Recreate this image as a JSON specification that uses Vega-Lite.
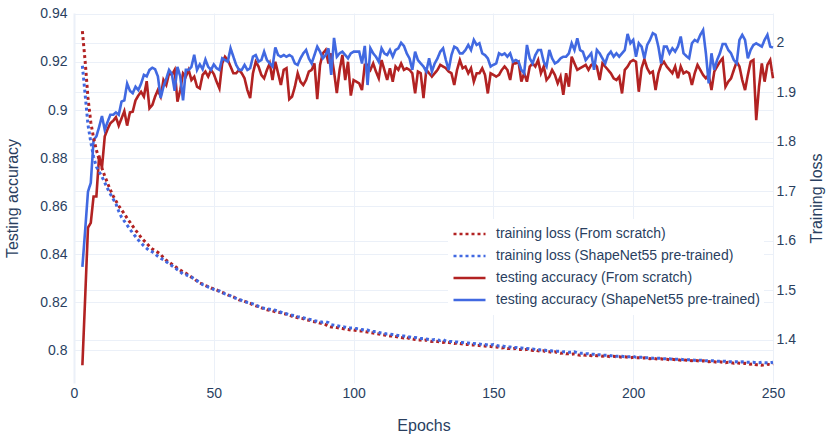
{
  "$schema": "https://vega.github.io/schema/vega-lite/v6.json",
  "width": 699,
  "height": 370,
  "autosize": {"type": "none"},
  "padding": {"left": 74, "top": 13, "right": 57, "bottom": 58},
  "background": "white",
  "config": {
    "font": "Liberation Sans",
    "view": {"stroke": null},
    "axis": {
      "labelFont": "Liberation Sans",
      "titleFont": "Liberation Sans",
      "labelFontSize": 14,
      "titleFontSize": 16,
      "titleFontWeight": "normal",
      "labelColor": "#2a3f5f",
      "titleColor": "#2a3f5f",
      "gridColor": "#EBF0F8",
      "gridWidth": 1,
      "domain": false,
      "ticks": false,
      "labelFlush": false
    },
    "legend": {
      "labelFont": "Liberation Sans",
      "labelFontSize": 14,
      "labelColor": "#2a3f5f",
      "labelLimit": 0
    }
  },
  "data": {
    "values": [
      {"epoch": 3, "a_s": 0.7937, "a_p": 0.8347, "l_s": 2.024, "l_p": 1.954},
      {"epoch": 4, "a_s": 0.822, "a_p": 0.850, "l_s": 1.962, "l_p": 1.895},
      {"epoch": 5, "a_s": 0.851, "a_p": 0.866, "l_s": 1.889, "l_p": 1.835},
      {"epoch": 6, "a_s": 0.853, "a_p": 0.8696, "l_s": 1.840, "l_p": 1.800},
      {"epoch": 7, "a_s": 0.864, "a_p": 0.8875, "l_s": 1.808, "l_p": 1.770},
      {"epoch": 8, "a_s": 0.864, "a_p": 0.889, "l_s": 1.784, "l_p": 1.750},
      {"epoch": 9, "a_s": 0.881, "a_p": 0.893, "l_s": 1.764, "l_p": 1.740},
      {"epoch": 10, "a_s": 0.876, "a_p": 0.8975, "l_s": 1.747, "l_p": 1.730},
      {"epoch": 11, "a_s": 0.889, "a_p": 0.8917, "l_s": 1.731, "l_p": 1.718},
      {"epoch": 12, "a_s": 0.892, "a_p": 0.895, "l_s": 1.717, "l_p": 1.706},
      {"epoch": 13, "a_s": 0.8945, "a_p": 0.898, "l_s": 1.703, "l_p": 1.695},
      {"epoch": 14, "a_s": 0.8955, "a_p": 0.898, "l_s": 1.691, "l_p": 1.685},
      {"epoch": 15, "a_s": 0.897, "a_p": 0.899, "l_s": 1.681, "l_p": 1.675},
      {"epoch": 16, "a_s": 0.8935, "a_p": 0.898, "l_s": 1.671, "l_p": 1.660},
      {"epoch": 17, "a_s": 0.8965, "a_p": 0.9035, "l_s": 1.663, "l_p": 1.648},
      {"epoch": 18, "a_s": 0.8995, "a_p": 0.904, "l_s": 1.655, "l_p": 1.640},
      {"epoch": 19, "a_s": 0.8935, "a_p": 0.911, "l_s": 1.646, "l_p": 1.632},
      {"epoch": 20, "a_s": 0.899, "a_p": 0.908, "l_s": 1.638, "l_p": 1.624},
      {"epoch": 21, "a_s": 0.8993, "a_p": 0.907, "l_s": 1.630, "l_p": 1.616},
      {"epoch": 22, "a_s": 0.904, "a_p": 0.9097, "l_s": 1.622, "l_p": 1.609},
      {"epoch": 23, "a_s": 0.906, "a_p": 0.9083, "l_s": 1.615, "l_p": 1.602},
      {"epoch": 24, "a_s": 0.9076, "a_p": 0.911, "l_s": 1.607, "l_p": 1.596},
      {"epoch": 25, "a_s": 0.9056, "a_p": 0.9146, "l_s": 1.601, "l_p": 1.590},
      {"epoch": 26, "a_s": 0.912, "a_p": 0.914, "l_s": 1.595, "l_p": 1.585},
      {"epoch": 27, "a_s": 0.9007, "a_p": 0.9167, "l_s": 1.589, "l_p": 1.580},
      {"epoch": 28, "a_s": 0.902, "a_p": 0.9176, "l_s": 1.584, "l_p": 1.578},
      {"epoch": 29, "a_s": 0.9056, "a_p": 0.917, "l_s": 1.580, "l_p": 1.574},
      {"epoch": 30, "a_s": 0.9083, "a_p": 0.914, "l_s": 1.577, "l_p": 1.569},
      {"epoch": 31, "a_s": 0.9056, "a_p": 0.905, "l_s": 1.573, "l_p": 1.565},
      {"epoch": 32, "a_s": 0.9125, "a_p": 0.9097, "l_s": 1.566, "l_p": 1.562},
      {"epoch": 33, "a_s": 0.9104, "a_p": 0.913, "l_s": 1.561, "l_p": 1.558},
      {"epoch": 34, "a_s": 0.9153, "a_p": 0.9167, "l_s": 1.557, "l_p": 1.554},
      {"epoch": 35, "a_s": 0.9146, "a_p": 0.915, "l_s": 1.553, "l_p": 1.550},
      {"epoch": 36, "a_s": 0.9167, "a_p": 0.908, "l_s": 1.549, "l_p": 1.546},
      {"epoch": 37, "a_s": 0.9035, "a_p": 0.918, "l_s": 1.545, "l_p": 1.542},
      {"epoch": 38, "a_s": 0.9083, "a_p": 0.914, "l_s": 1.541, "l_p": 1.538},
      {"epoch": 39, "a_s": 0.9153, "a_p": 0.904, "l_s": 1.538, "l_p": 1.533},
      {"epoch": 40, "a_s": 0.9139, "a_p": 0.9167, "l_s": 1.535, "l_p": 1.532},
      {"epoch": 41, "a_s": 0.9167, "a_p": 0.9167, "l_s": 1.531, "l_p": 1.529},
      {"epoch": 42, "a_s": 0.9125, "a_p": 0.918, "l_s": 1.527, "l_p": 1.527},
      {"epoch": 43, "a_s": 0.9139, "a_p": 0.923, "l_s": 1.524, "l_p": 1.523},
      {"epoch": 44, "a_s": 0.9097, "a_p": 0.9167, "l_s": 1.519, "l_p": 1.520},
      {"epoch": 45, "a_s": 0.909, "a_p": 0.919, "l_s": 1.515, "l_p": 1.516},
      {"epoch": 46, "a_s": 0.9146, "a_p": 0.917, "l_s": 1.513, "l_p": 1.512},
      {"epoch": 47, "a_s": 0.916, "a_p": 0.921, "l_s": 1.510, "l_p": 1.510},
      {"epoch": 48, "a_s": 0.9139, "a_p": 0.918, "l_s": 1.508, "l_p": 1.507},
      {"epoch": 49, "a_s": 0.9167, "a_p": 0.9167, "l_s": 1.505, "l_p": 1.505},
      {"epoch": 50, "a_s": 0.915, "a_p": 0.919, "l_s": 1.503, "l_p": 1.502},
      {"epoch": 51, "a_s": 0.9118, "a_p": 0.9174, "l_s": 1.501, "l_p": 1.500},
      {"epoch": 52, "a_s": 0.909, "a_p": 0.9167, "l_s": 1.498, "l_p": 1.499},
      {"epoch": 53, "a_s": 0.9194, "a_p": 0.9215, "l_s": 1.496, "l_p": 1.496},
      {"epoch": 54, "a_s": 0.9222, "a_p": 0.9208, "l_s": 1.494, "l_p": 1.493},
      {"epoch": 55, "a_s": 0.9208, "a_p": 0.9201, "l_s": 1.491, "l_p": 1.491},
      {"epoch": 56, "a_s": 0.9181, "a_p": 0.9257, "l_s": 1.489, "l_p": 1.489},
      {"epoch": 57, "a_s": 0.9153, "a_p": 0.9222, "l_s": 1.487, "l_p": 1.486},
      {"epoch": 58, "a_s": 0.9153, "a_p": 0.9188, "l_s": 1.484, "l_p": 1.484},
      {"epoch": 59, "a_s": 0.9167, "a_p": 0.9167, "l_s": 1.481, "l_p": 1.482},
      {"epoch": 60, "a_s": 0.9153, "a_p": 0.9167, "l_s": 1.480, "l_p": 1.480},
      {"epoch": 61, "a_s": 0.9132, "a_p": 0.9188, "l_s": 1.478, "l_p": 1.478},
      {"epoch": 62, "a_s": 0.9083, "a_p": 0.9167, "l_s": 1.476, "l_p": 1.476},
      {"epoch": 63, "a_s": 0.905, "a_p": 0.9174, "l_s": 1.474, "l_p": 1.475},
      {"epoch": 64, "a_s": 0.9153, "a_p": 0.9222, "l_s": 1.471, "l_p": 1.473},
      {"epoch": 65, "a_s": 0.9201, "a_p": 0.9229, "l_s": 1.469, "l_p": 1.471},
      {"epoch": 66, "a_s": 0.9181, "a_p": 0.9201, "l_s": 1.467, "l_p": 1.468},
      {"epoch": 67, "a_s": 0.9146, "a_p": 0.9208, "l_s": 1.465, "l_p": 1.466},
      {"epoch": 68, "a_s": 0.9132, "a_p": 0.9243, "l_s": 1.463, "l_p": 1.464},
      {"epoch": 69, "a_s": 0.9167, "a_p": 0.9208, "l_s": 1.461, "l_p": 1.463},
      {"epoch": 70, "a_s": 0.9194, "a_p": 0.9194, "l_s": 1.460, "l_p": 1.462},
      {"epoch": 71, "a_s": 0.9125, "a_p": 0.9181, "l_s": 1.459, "l_p": 1.461},
      {"epoch": 72, "a_s": 0.9201, "a_p": 0.9261, "l_s": 1.457, "l_p": 1.460},
      {"epoch": 73, "a_s": 0.9153, "a_p": 0.9229, "l_s": 1.456, "l_p": 1.458},
      {"epoch": 74, "a_s": 0.9104, "a_p": 0.9222, "l_s": 1.455, "l_p": 1.456},
      {"epoch": 75, "a_s": 0.9167, "a_p": 0.9229, "l_s": 1.453, "l_p": 1.454},
      {"epoch": 76, "a_s": 0.9174, "a_p": 0.9222, "l_s": 1.452, "l_p": 1.453},
      {"epoch": 77, "a_s": 0.9045, "a_p": 0.9229, "l_s": 1.450, "l_p": 1.451},
      {"epoch": 78, "a_s": 0.9056, "a_p": 0.9222, "l_s": 1.448, "l_p": 1.450},
      {"epoch": 79, "a_s": 0.9097, "a_p": 0.9194, "l_s": 1.447, "l_p": 1.449},
      {"epoch": 80, "a_s": 0.9153, "a_p": 0.9188, "l_s": 1.445, "l_p": 1.447},
      {"epoch": 81, "a_s": 0.9118, "a_p": 0.9215, "l_s": 1.444, "l_p": 1.446},
      {"epoch": 82, "a_s": 0.9104, "a_p": 0.9236, "l_s": 1.443, "l_p": 1.445},
      {"epoch": 83, "a_s": 0.9125, "a_p": 0.925, "l_s": 1.441, "l_p": 1.443},
      {"epoch": 84, "a_s": 0.916, "a_p": 0.9215, "l_s": 1.440, "l_p": 1.442},
      {"epoch": 85, "a_s": 0.9167, "a_p": 0.9194, "l_s": 1.438, "l_p": 1.441},
      {"epoch": 86, "a_s": 0.9194, "a_p": 0.9229, "l_s": 1.437, "l_p": 1.439},
      {"epoch": 87, "a_s": 0.9045, "a_p": 0.9264, "l_s": 1.436, "l_p": 1.438},
      {"epoch": 88, "a_s": 0.9188, "a_p": 0.9243, "l_s": 1.434, "l_p": 1.437},
      {"epoch": 89, "a_s": 0.9236, "a_p": 0.9215, "l_s": 1.433, "l_p": 1.436},
      {"epoch": 90, "a_s": 0.925, "a_p": 0.9229, "l_s": 1.431, "l_p": 1.437},
      {"epoch": 91, "a_s": 0.9194, "a_p": 0.9257, "l_s": 1.427, "l_p": 1.435},
      {"epoch": 92, "a_s": 0.9236, "a_p": 0.9146, "l_s": 1.426, "l_p": 1.431},
      {"epoch": 93, "a_s": 0.916, "a_p": 0.930, "l_s": 1.426, "l_p": 1.430},
      {"epoch": 94, "a_s": 0.907, "a_p": 0.9222, "l_s": 1.425, "l_p": 1.429},
      {"epoch": 95, "a_s": 0.9167, "a_p": 0.9236, "l_s": 1.424, "l_p": 1.428},
      {"epoch": 96, "a_s": 0.9229, "a_p": 0.9243, "l_s": 1.423, "l_p": 1.427},
      {"epoch": 97, "a_s": 0.9125, "a_p": 0.9229, "l_s": 1.422, "l_p": 1.426},
      {"epoch": 98, "a_s": 0.9201, "a_p": 0.9215, "l_s": 1.421, "l_p": 1.425},
      {"epoch": 99, "a_s": 0.906, "a_p": 0.9236, "l_s": 1.420, "l_p": 1.424},
      {"epoch": 100, "a_s": 0.9125, "a_p": 0.9243, "l_s": 1.420, "l_p": 1.424},
      {"epoch": 101, "a_s": 0.9118, "a_p": 0.9243, "l_s": 1.419, "l_p": 1.423},
      {"epoch": 102, "a_s": 0.9111, "a_p": 0.9243, "l_s": 1.418, "l_p": 1.422},
      {"epoch": 103, "a_s": 0.9083, "a_p": 0.9194, "l_s": 1.418, "l_p": 1.421},
      {"epoch": 104, "a_s": 0.9188, "a_p": 0.9267, "l_s": 1.417, "l_p": 1.420},
      {"epoch": 105, "a_s": 0.9188, "a_p": 0.9104, "l_s": 1.416, "l_p": 1.420},
      {"epoch": 106, "a_s": 0.9167, "a_p": 0.9257, "l_s": 1.415, "l_p": 1.418},
      {"epoch": 107, "a_s": 0.9194, "a_p": 0.9236, "l_s": 1.414, "l_p": 1.417},
      {"epoch": 108, "a_s": 0.916, "a_p": 0.9222, "l_s": 1.413, "l_p": 1.417},
      {"epoch": 109, "a_s": 0.9132, "a_p": 0.9201, "l_s": 1.412, "l_p": 1.415},
      {"epoch": 110, "a_s": 0.9208, "a_p": 0.9257, "l_s": 1.411, "l_p": 1.414},
      {"epoch": 111, "a_s": 0.9167, "a_p": 0.9236, "l_s": 1.410, "l_p": 1.413},
      {"epoch": 112, "a_s": 0.9125, "a_p": 0.9229, "l_s": 1.409, "l_p": 1.412},
      {"epoch": 113, "a_s": 0.9174, "a_p": 0.925, "l_s": 1.408, "l_p": 1.412},
      {"epoch": 114, "a_s": 0.9118, "a_p": 0.9222, "l_s": 1.408, "l_p": 1.411},
      {"epoch": 115, "a_s": 0.9181, "a_p": 0.925, "l_s": 1.407, "l_p": 1.410},
      {"epoch": 116, "a_s": 0.9167, "a_p": 0.9257, "l_s": 1.406, "l_p": 1.409},
      {"epoch": 117, "a_s": 0.9194, "a_p": 0.928, "l_s": 1.405, "l_p": 1.408},
      {"epoch": 118, "a_s": 0.9167, "a_p": 0.9267, "l_s": 1.404, "l_p": 1.408},
      {"epoch": 119, "a_s": 0.9174, "a_p": 0.9236, "l_s": 1.405, "l_p": 1.407},
      {"epoch": 120, "a_s": 0.9167, "a_p": 0.9215, "l_s": 1.403, "l_p": 1.406},
      {"epoch": 121, "a_s": 0.9153, "a_p": 0.9167, "l_s": 1.402, "l_p": 1.405},
      {"epoch": 122, "a_s": 0.9069, "a_p": 0.9243, "l_s": 1.401, "l_p": 1.405},
      {"epoch": 123, "a_s": 0.916, "a_p": 0.9208, "l_s": 1.400, "l_p": 1.404},
      {"epoch": 124, "a_s": 0.9153, "a_p": 0.9194, "l_s": 1.400, "l_p": 1.403},
      {"epoch": 125, "a_s": 0.905, "a_p": 0.9181, "l_s": 1.399, "l_p": 1.403},
      {"epoch": 126, "a_s": 0.9167, "a_p": 0.916, "l_s": 1.400, "l_p": 1.402},
      {"epoch": 127, "a_s": 0.9153, "a_p": 0.9215, "l_s": 1.398, "l_p": 1.401},
      {"epoch": 128, "a_s": 0.9139, "a_p": 0.916, "l_s": 1.397, "l_p": 1.400},
      {"epoch": 129, "a_s": 0.9153, "a_p": 0.9194, "l_s": 1.398, "l_p": 1.401},
      {"epoch": 130, "a_s": 0.9167, "a_p": 0.9215, "l_s": 1.397, "l_p": 1.400},
      {"epoch": 131, "a_s": 0.9188, "a_p": 0.9243, "l_s": 1.396, "l_p": 1.399},
      {"epoch": 132, "a_s": 0.9181, "a_p": 0.9257, "l_s": 1.395, "l_p": 1.401},
      {"epoch": 133, "a_s": 0.9174, "a_p": 0.9208, "l_s": 1.396, "l_p": 1.398},
      {"epoch": 134, "a_s": 0.916, "a_p": 0.9167, "l_s": 1.395, "l_p": 1.397},
      {"epoch": 135, "a_s": 0.9153, "a_p": 0.9229, "l_s": 1.394, "l_p": 1.397},
      {"epoch": 136, "a_s": 0.9104, "a_p": 0.9264, "l_s": 1.393, "l_p": 1.396},
      {"epoch": 137, "a_s": 0.9167, "a_p": 0.9257, "l_s": 1.394, "l_p": 1.396},
      {"epoch": 138, "a_s": 0.9208, "a_p": 0.9236, "l_s": 1.393, "l_p": 1.395},
      {"epoch": 139, "a_s": 0.9174, "a_p": 0.9236, "l_s": 1.392, "l_p": 1.395},
      {"epoch": 140, "a_s": 0.9181, "a_p": 0.925, "l_s": 1.391, "l_p": 1.394},
      {"epoch": 141, "a_s": 0.9153, "a_p": 0.9271, "l_s": 1.391, "l_p": 1.394},
      {"epoch": 142, "a_s": 0.9174, "a_p": 0.925, "l_s": 1.390, "l_p": 1.393},
      {"epoch": 143, "a_s": 0.9118, "a_p": 0.9292, "l_s": 1.390, "l_p": 1.393},
      {"epoch": 144, "a_s": 0.9153, "a_p": 0.9271, "l_s": 1.389, "l_p": 1.392},
      {"epoch": 145, "a_s": 0.9153, "a_p": 0.9278, "l_s": 1.389, "l_p": 1.392},
      {"epoch": 146, "a_s": 0.9174, "a_p": 0.9236, "l_s": 1.388, "l_p": 1.391},
      {"epoch": 147, "a_s": 0.9146, "a_p": 0.9229, "l_s": 1.388, "l_p": 1.391},
      {"epoch": 148, "a_s": 0.9069, "a_p": 0.9215, "l_s": 1.387, "l_p": 1.390},
      {"epoch": 149, "a_s": 0.9153, "a_p": 0.9181, "l_s": 1.387, "l_p": 1.390},
      {"epoch": 150, "a_s": 0.9146, "a_p": 0.9188, "l_s": 1.386, "l_p": 1.391},
      {"epoch": 151, "a_s": 0.9139, "a_p": 0.9194, "l_s": 1.386, "l_p": 1.389},
      {"epoch": 152, "a_s": 0.9146, "a_p": 0.9236, "l_s": 1.385, "l_p": 1.388},
      {"epoch": 153, "a_s": 0.9167, "a_p": 0.9229, "l_s": 1.384, "l_p": 1.388},
      {"epoch": 154, "a_s": 0.9181, "a_p": 0.9236, "l_s": 1.385, "l_p": 1.387},
      {"epoch": 155, "a_s": 0.9167, "a_p": 0.9222, "l_s": 1.383, "l_p": 1.386},
      {"epoch": 156, "a_s": 0.9125, "a_p": 0.9236, "l_s": 1.383, "l_p": 1.386},
      {"epoch": 157, "a_s": 0.9194, "a_p": 0.9201, "l_s": 1.382, "l_p": 1.385},
      {"epoch": 158, "a_s": 0.9194, "a_p": 0.9208, "l_s": 1.383, "l_p": 1.385},
      {"epoch": 159, "a_s": 0.9201, "a_p": 0.9201, "l_s": 1.381, "l_p": 1.384},
      {"epoch": 160, "a_s": 0.9118, "a_p": 0.9167, "l_s": 1.381, "l_p": 1.384},
      {"epoch": 161, "a_s": 0.9153, "a_p": 0.9153, "l_s": 1.380, "l_p": 1.383},
      {"epoch": 162, "a_s": 0.9118, "a_p": 0.9271, "l_s": 1.381, "l_p": 1.383},
      {"epoch": 163, "a_s": 0.9181, "a_p": 0.9215, "l_s": 1.380, "l_p": 1.382},
      {"epoch": 164, "a_s": 0.9194, "a_p": 0.9194, "l_s": 1.379, "l_p": 1.382},
      {"epoch": 165, "a_s": 0.9181, "a_p": 0.9229, "l_s": 1.380, "l_p": 1.381},
      {"epoch": 166, "a_s": 0.9208, "a_p": 0.925, "l_s": 1.378, "l_p": 1.381},
      {"epoch": 167, "a_s": 0.9153, "a_p": 0.925, "l_s": 1.377, "l_p": 1.380},
      {"epoch": 168, "a_s": 0.9181, "a_p": 0.9201, "l_s": 1.378, "l_p": 1.380},
      {"epoch": 169, "a_s": 0.9125, "a_p": 0.9181, "l_s": 1.376, "l_p": 1.379},
      {"epoch": 170, "a_s": 0.9139, "a_p": 0.925, "l_s": 1.376, "l_p": 1.379},
      {"epoch": 171, "a_s": 0.9167, "a_p": 0.9215, "l_s": 1.375, "l_p": 1.378},
      {"epoch": 172, "a_s": 0.9146, "a_p": 0.9194, "l_s": 1.376, "l_p": 1.378},
      {"epoch": 173, "a_s": 0.9111, "a_p": 0.9201, "l_s": 1.374, "l_p": 1.377},
      {"epoch": 174, "a_s": 0.9139, "a_p": 0.9215, "l_s": 1.373, "l_p": 1.377},
      {"epoch": 175, "a_s": 0.9063, "a_p": 0.9222, "l_s": 1.374, "l_p": 1.376},
      {"epoch": 176, "a_s": 0.9153, "a_p": 0.9222, "l_s": 1.372, "l_p": 1.376},
      {"epoch": 177, "a_s": 0.9097, "a_p": 0.9236, "l_s": 1.372, "l_p": 1.375},
      {"epoch": 178, "a_s": 0.9222, "a_p": 0.9278, "l_s": 1.371, "l_p": 1.375},
      {"epoch": 179, "a_s": 0.9194, "a_p": 0.925, "l_s": 1.372, "l_p": 1.376},
      {"epoch": 180, "a_s": 0.9167, "a_p": 0.9299, "l_s": 1.370, "l_p": 1.374},
      {"epoch": 181, "a_s": 0.9174, "a_p": 0.925, "l_s": 1.369, "l_p": 1.373},
      {"epoch": 182, "a_s": 0.9181, "a_p": 0.9243, "l_s": 1.370, "l_p": 1.373},
      {"epoch": 183, "a_s": 0.9188, "a_p": 0.9208, "l_s": 1.369, "l_p": 1.372},
      {"epoch": 184, "a_s": 0.9167, "a_p": 0.9222, "l_s": 1.370, "l_p": 1.372},
      {"epoch": 185, "a_s": 0.9188, "a_p": 0.9236, "l_s": 1.368, "l_p": 1.371},
      {"epoch": 186, "a_s": 0.9194, "a_p": 0.9167, "l_s": 1.369, "l_p": 1.371},
      {"epoch": 187, "a_s": 0.9181, "a_p": 0.925, "l_s": 1.368, "l_p": 1.370},
      {"epoch": 188, "a_s": 0.9125, "a_p": 0.9236, "l_s": 1.368, "l_p": 1.370},
      {"epoch": 189, "a_s": 0.9194, "a_p": 0.9215, "l_s": 1.367, "l_p": 1.369},
      {"epoch": 190, "a_s": 0.9181, "a_p": 0.9194, "l_s": 1.368, "l_p": 1.369},
      {"epoch": 191, "a_s": 0.9167, "a_p": 0.9229, "l_s": 1.367, "l_p": 1.369},
      {"epoch": 192, "a_s": 0.9153, "a_p": 0.9243, "l_s": 1.366, "l_p": 1.368},
      {"epoch": 193, "a_s": 0.9132, "a_p": 0.9222, "l_s": 1.367, "l_p": 1.368},
      {"epoch": 194, "a_s": 0.9125, "a_p": 0.9236, "l_s": 1.366, "l_p": 1.367},
      {"epoch": 195, "a_s": 0.9139, "a_p": 0.9222, "l_s": 1.366, "l_p": 1.367},
      {"epoch": 196, "a_s": 0.9069, "a_p": 0.9236, "l_s": 1.365, "l_p": 1.367},
      {"epoch": 197, "a_s": 0.9167, "a_p": 0.925, "l_s": 1.366, "l_p": 1.366},
      {"epoch": 198, "a_s": 0.9181, "a_p": 0.9317, "l_s": 1.365, "l_p": 1.366},
      {"epoch": 199, "a_s": 0.9201, "a_p": 0.9278, "l_s": 1.364, "l_p": 1.366},
      {"epoch": 200, "a_s": 0.9208, "a_p": 0.9292, "l_s": 1.365, "l_p": 1.367},
      {"epoch": 201, "a_s": 0.9201, "a_p": 0.9222, "l_s": 1.364, "l_p": 1.365},
      {"epoch": 202, "a_s": 0.9076, "a_p": 0.9278, "l_s": 1.364, "l_p": 1.365},
      {"epoch": 203, "a_s": 0.9174, "a_p": 0.9264, "l_s": 1.363, "l_p": 1.365},
      {"epoch": 204, "a_s": 0.9211, "a_p": 0.9215, "l_s": 1.364, "l_p": 1.364},
      {"epoch": 205, "a_s": 0.9174, "a_p": 0.9271, "l_s": 1.363, "l_p": 1.364},
      {"epoch": 206, "a_s": 0.9153, "a_p": 0.9292, "l_s": 1.362, "l_p": 1.364},
      {"epoch": 207, "a_s": 0.916, "a_p": 0.932, "l_s": 1.363, "l_p": 1.363},
      {"epoch": 208, "a_s": 0.9083, "a_p": 0.9313, "l_s": 1.362, "l_p": 1.363},
      {"epoch": 209, "a_s": 0.9153, "a_p": 0.9264, "l_s": 1.361, "l_p": 1.363},
      {"epoch": 210, "a_s": 0.9188, "a_p": 0.9194, "l_s": 1.362, "l_p": 1.363},
      {"epoch": 211, "a_s": 0.9201, "a_p": 0.9264, "l_s": 1.361, "l_p": 1.362},
      {"epoch": 212, "a_s": 0.9181, "a_p": 0.9264, "l_s": 1.361, "l_p": 1.362},
      {"epoch": 213, "a_s": 0.9167, "a_p": 0.9236, "l_s": 1.360, "l_p": 1.362},
      {"epoch": 214, "a_s": 0.9153, "a_p": 0.9257, "l_s": 1.361, "l_p": 1.361},
      {"epoch": 215, "a_s": 0.9181, "a_p": 0.9243, "l_s": 1.360, "l_p": 1.361},
      {"epoch": 216, "a_s": 0.9132, "a_p": 0.9264, "l_s": 1.360, "l_p": 1.361},
      {"epoch": 217, "a_s": 0.9181, "a_p": 0.9306, "l_s": 1.359, "l_p": 1.361},
      {"epoch": 218, "a_s": 0.9153, "a_p": 0.9236, "l_s": 1.360, "l_p": 1.360},
      {"epoch": 219, "a_s": 0.916, "a_p": 0.9225, "l_s": 1.359, "l_p": 1.360},
      {"epoch": 220, "a_s": 0.9153, "a_p": 0.9215, "l_s": 1.359, "l_p": 1.360},
      {"epoch": 221, "a_s": 0.9104, "a_p": 0.9278, "l_s": 1.358, "l_p": 1.360},
      {"epoch": 222, "a_s": 0.9153, "a_p": 0.9292, "l_s": 1.359, "l_p": 1.359},
      {"epoch": 223, "a_s": 0.9188, "a_p": 0.9285, "l_s": 1.358, "l_p": 1.359},
      {"epoch": 224, "a_s": 0.9167, "a_p": 0.9313, "l_s": 1.357, "l_p": 1.359},
      {"epoch": 225, "a_s": 0.9146, "a_p": 0.9333, "l_s": 1.358, "l_p": 1.359},
      {"epoch": 226, "a_s": 0.9132, "a_p": 0.9236, "l_s": 1.357, "l_p": 1.358},
      {"epoch": 227, "a_s": 0.9146, "a_p": 0.9111, "l_s": 1.356, "l_p": 1.358},
      {"epoch": 228, "a_s": 0.9083, "a_p": 0.9236, "l_s": 1.357, "l_p": 1.358},
      {"epoch": 229, "a_s": 0.916, "a_p": 0.9167, "l_s": 1.356, "l_p": 1.358},
      {"epoch": 230, "a_s": 0.9181, "a_p": 0.9208, "l_s": 1.355, "l_p": 1.357},
      {"epoch": 231, "a_s": 0.9201, "a_p": 0.9236, "l_s": 1.356, "l_p": 1.357},
      {"epoch": 232, "a_s": 0.9215, "a_p": 0.9275, "l_s": 1.355, "l_p": 1.357},
      {"epoch": 233, "a_s": 0.9097, "a_p": 0.9275, "l_s": 1.354, "l_p": 1.357},
      {"epoch": 234, "a_s": 0.9118, "a_p": 0.925, "l_s": 1.355, "l_p": 1.356},
      {"epoch": 235, "a_s": 0.9132, "a_p": 0.9236, "l_s": 1.354, "l_p": 1.356},
      {"epoch": 236, "a_s": 0.9167, "a_p": 0.9208, "l_s": 1.353, "l_p": 1.356},
      {"epoch": 237, "a_s": 0.9201, "a_p": 0.9194, "l_s": 1.354, "l_p": 1.356},
      {"epoch": 238, "a_s": 0.9181, "a_p": 0.9292, "l_s": 1.353, "l_p": 1.355},
      {"epoch": 239, "a_s": 0.9125, "a_p": 0.9313, "l_s": 1.352, "l_p": 1.356},
      {"epoch": 240, "a_s": 0.9083, "a_p": 0.9292, "l_s": 1.353, "l_p": 1.355},
      {"epoch": 241, "a_s": 0.9146, "a_p": 0.9215, "l_s": 1.352, "l_p": 1.355},
      {"epoch": 242, "a_s": 0.9201, "a_p": 0.925, "l_s": 1.351, "l_p": 1.355},
      {"epoch": 243, "a_s": 0.9208, "a_p": 0.9271, "l_s": 1.352, "l_p": 1.355},
      {"epoch": 244, "a_s": 0.8958, "a_p": 0.9278, "l_s": 1.350, "l_p": 1.354},
      {"epoch": 245, "a_s": 0.9097, "a_p": 0.9271, "l_s": 1.350, "l_p": 1.354},
      {"epoch": 246, "a_s": 0.9194, "a_p": 0.9264, "l_s": 1.349, "l_p": 1.355},
      {"epoch": 247, "a_s": 0.9118, "a_p": 0.9292, "l_s": 1.350, "l_p": 1.354},
      {"epoch": 248, "a_s": 0.9188, "a_p": 0.9313, "l_s": 1.351, "l_p": 1.354},
      {"epoch": 249, "a_s": 0.9208, "a_p": 0.9264, "l_s": 1.350, "l_p": 1.354},
      {"epoch": 250, "a_s": 0.9132, "a_p": 0.926, "l_s": 1.352, "l_p": 1.355}
    ]
  },
  "layer": [
    {
      "transform": [{"fold": ["a_s", "a_p"], "as": ["series", "value"]}],
      "mark": {"type": "line", "strokeWidth": 2.6},
      "encoding": {
        "x": {
          "field": "epoch",
          "type": "quantitative",
          "scale": {"domain": [0, 250], "nice": false, "zero": false},
          "axis": {
            "title": "Epochs",
            "values": [0, 50, 100, 150, 200, 250],
            "grid": true,
            "gridWidth": {"condition": {"test": "datum.value === 0", "value": 2}, "value": 1},
            "labelPadding": 3,
            "titlePadding": 17
          }
        },
        "y": {
          "field": "value",
          "type": "quantitative",
          "scale": {"domain": [0.7863, 0.9404], "nice": false, "zero": false},
          "axis": {
            "orient": "left",
            "title": "Testing accuracy",
            "values": [0.8, 0.82, 0.84, 0.86, 0.88, 0.9, 0.92, 0.94],
            "format": "~g",
            "grid": true,
            "labelPadding": 7,
            "titlePadding": 19
          }
        },
        "color": {
          "field": "series",
          "type": "nominal",
          "scale": {
            "domain": ["l_s", "l_p", "a_s", "a_p"],
            "range": ["#B22222", "#4169E1", "#B22222", "#4169E1"]
          },
          "legend": {
            "title": null,
            "orient": "none",
            "legendX": 374,
            "legendY": 206,
            "direction": "vertical",
            "symbolType": "stroke",
            "symbolSize": 1024,
            "symbolStrokeWidth": 2.6,
            "clipHeight": 22,
            "rowPadding": 0,
            "labelOffset": 9,
            "labelLimit": 0,
            "padding": 4,
            "fillColor": "white",
            "labelExpr": "datum.label == 'l_s' ? 'training loss (From scratch)' : datum.label == 'l_p' ? 'training loss (ShapeNet55 pre-trained)' : datum.label == 'a_s' ? 'testing accuracy (From scratch)' : 'testing accuracy (ShapeNet55 pre-trained)'"
          }
        },
        "strokeDash": {
          "field": "series",
          "type": "nominal",
          "scale": {
            "domain": ["l_s", "l_p", "a_s", "a_p"],
            "range": [[3, 3], [3, 3], [1, 0], [1, 0]]
          },
          "legend": {
            "title": null,
            "orient": "none",
            "legendX": 374,
            "legendY": 206,
            "direction": "vertical",
            "symbolType": "stroke",
            "symbolSize": 1024,
            "symbolStrokeWidth": 2.6,
            "clipHeight": 22,
            "rowPadding": 0,
            "labelOffset": 9,
            "labelLimit": 0,
            "padding": 4,
            "fillColor": "white",
            "labelExpr": "datum.label == 'l_s' ? 'training loss (From scratch)' : datum.label == 'l_p' ? 'training loss (ShapeNet55 pre-trained)' : datum.label == 'a_s' ? 'testing accuracy (From scratch)' : 'testing accuracy (ShapeNet55 pre-trained)'"
          }
        }
      }
    },
    {
      "transform": [{"fold": ["l_s", "l_p"], "as": ["series", "value"]}],
      "mark": {"type": "line", "strokeWidth": 3},
      "encoding": {
        "x": {
          "field": "epoch",
          "type": "quantitative",
          "scale": {"domain": [0, 250], "nice": false, "zero": false},
          "axis": {
            "title": "Epochs",
            "values": [0, 50, 100, 150, 200, 250],
            "grid": true,
            "gridWidth": {"condition": {"test": "datum.value === 0", "value": 2}, "value": 1},
            "labelPadding": 3,
            "titlePadding": 17
          }
        },
        "y": {
          "field": "value",
          "type": "quantitative",
          "scale": {"domain": [1.3131, 2.0606], "nice": false, "zero": false},
          "axis": {
            "orient": "right",
            "title": "Training loss",
            "values": [1.4, 1.5, 1.6, 1.7, 1.8, 1.9, 2.0],
            "format": "~g",
            "grid": true,
            "labelPadding": 3,
            "titleAngle": -90,
            "titleBaseline": "top",
            "titlePadding": 13
          }
        },
        "color": {
          "field": "series",
          "type": "nominal",
          "scale": {
            "domain": ["l_s", "l_p", "a_s", "a_p"],
            "range": ["#B22222", "#4169E1", "#B22222", "#4169E1"]
          },
          "legend": {
            "title": null,
            "orient": "none",
            "legendX": 374,
            "legendY": 206,
            "direction": "vertical",
            "symbolType": "stroke",
            "symbolSize": 1024,
            "symbolStrokeWidth": 2.6,
            "clipHeight": 22,
            "rowPadding": 0,
            "labelOffset": 9,
            "labelLimit": 0,
            "padding": 4,
            "fillColor": "white",
            "labelExpr": "datum.label == 'l_s' ? 'training loss (From scratch)' : datum.label == 'l_p' ? 'training loss (ShapeNet55 pre-trained)' : datum.label == 'a_s' ? 'testing accuracy (From scratch)' : 'testing accuracy (ShapeNet55 pre-trained)'"
          }
        },
        "strokeDash": {
          "field": "series",
          "type": "nominal",
          "scale": {
            "domain": ["l_s", "l_p", "a_s", "a_p"],
            "range": [[3, 3], [3, 3], [1, 0], [1, 0]]
          },
          "legend": {
            "title": null,
            "orient": "none",
            "legendX": 374,
            "legendY": 206,
            "direction": "vertical",
            "symbolType": "stroke",
            "symbolSize": 1024,
            "symbolStrokeWidth": 2.6,
            "clipHeight": 22,
            "rowPadding": 0,
            "labelOffset": 9,
            "labelLimit": 0,
            "padding": 4,
            "fillColor": "white",
            "labelExpr": "datum.label == 'l_s' ? 'training loss (From scratch)' : datum.label == 'l_p' ? 'training loss (ShapeNet55 pre-trained)' : datum.label == 'a_s' ? 'testing accuracy (From scratch)' : 'testing accuracy (ShapeNet55 pre-trained)'"
          }
        }
      }
    }
  ],
  "resolve": {"scale": {"y": "independent"}}
}
